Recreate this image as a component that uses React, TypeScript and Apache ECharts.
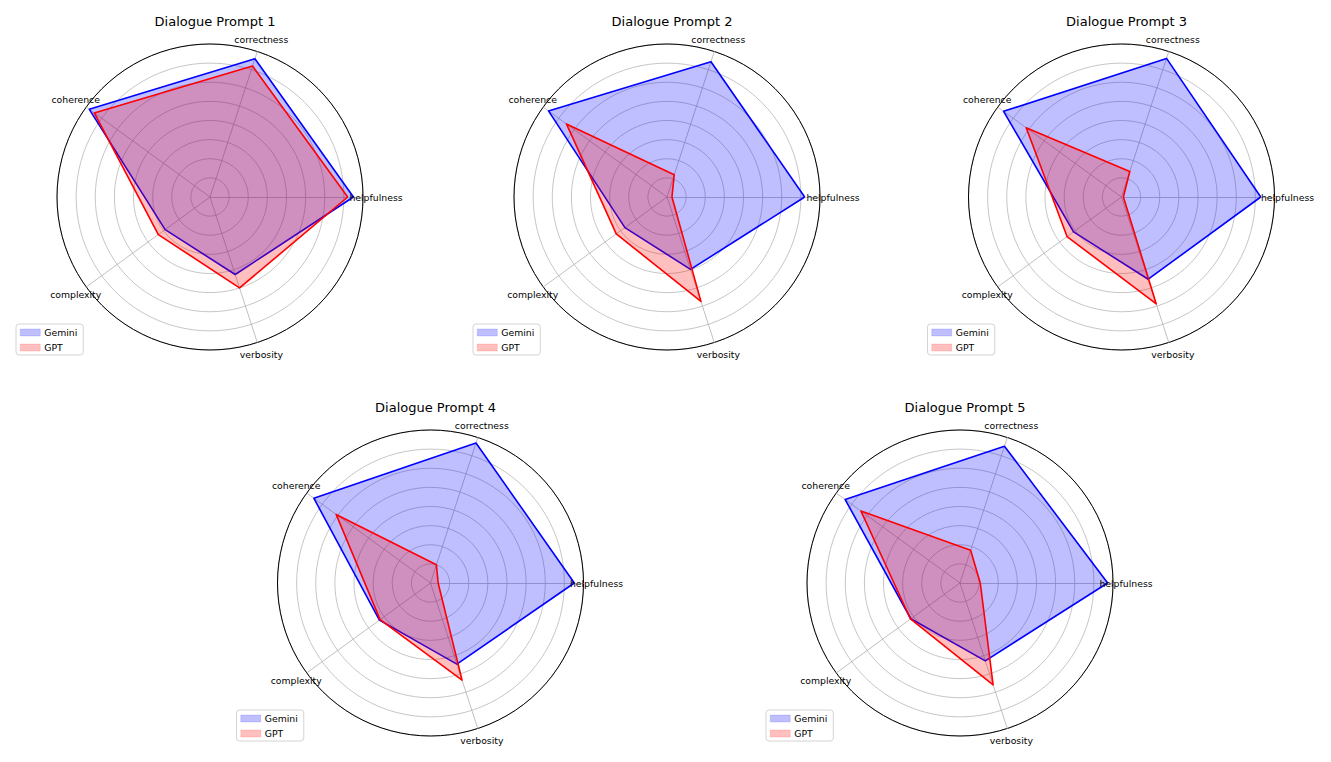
import React, { useEffect, useRef } from "react";
import * as echarts from "echarts";

const categories = ["helpfulness", "correctness", "coherence", "complexity", "verbosity"];
const titles = ["Dialogue Prompt 1", "Dialogue Prompt 2", "Dialogue Prompt 3", "Dialogue Prompt 4", "Dialogue Prompt 5"];
const seriesNames = ["Gemini", "GPT"];

const gemini1 = [3.75, 3.8, 3.9, 1.45, 2.13];
const gpt1 = [3.6, 3.6, 3.74, 1.67, 2.5];
const gemini2 = [3.6, 3.72, 3.83, 1.36, 1.99];
const gpt2 = [0.13, 0.61, 3.25, 1.64, 2.87];
const gemini3 = [3.64, 3.81, 3.81, 1.55, 2.26];
const gpt3 = [0.05, 0.7, 3.08, 1.76, 2.94];
const gemini4 = [3.76, 3.85, 3.77, 1.65, 2.23];
const gpt4 = [0.2, 0.5, 3.05, 1.63, 2.67];
const gemini5 = [3.86, 3.76, 3.71, 1.59, 2.14];
const gpt5 = [0.53, 0.9, 3.2, 1.6, 2.8];

const geminiData = [gemini1, gemini2, gemini3, gemini4, gemini5];
const gptData = [gpt1, gpt2, gpt3, gpt4, gpt5];

const rMax = 4;
const rStep = 0.5;

// layout
const centers: [number, number][] = [
  [210, 197],
  [667, 197],
  [1121.5, 197],
  [430.5, 583],
  [960, 583],
];
const RADIUS = 153;
const FONT = "DejaVu Sans, Liberation Sans, sans-serif";

const BLUE = "#0000ff";
const RED = "#ff0000";

export default function App() {
  const ref = useRef<HTMLDivElement>(null);

  useEffect(() => {
    document.body.style.margin = "0";
    if (!ref.current) return;
    const chart = echarts.init(ref.current, undefined, { renderer: "svg" });

    const radar: any[] = [];
    const series: any[] = [];
    const title: any[] = [];
    const legend: any[] = [];
    const graphic: any[] = [];

    centers.forEach(([cx, cy], i) => {
      const indicator = categories.map((c) => ({ name: c, min: 0, max: rMax }));
      radar.push({
        center: [cx, cy],
        radius: RADIUS,
        startAngle: 0,
        shape: "circle",
        splitNumber: Math.round(rMax / rStep),
        indicator,
        axisName: { show: false },
        axisLine: { show: true, lineStyle: { color: "#b0b0b0", width: 0.8 } },
        splitLine: { show: true, lineStyle: { color: "#b8b8b8", width: 0.8 } },
        splitArea: { show: false },
        axisTick: { show: false },
        axisLabel: { show: false },
      });
      radar.push({
        center: [cx, cy],
        radius: RADIUS,
        startAngle: 0,
        shape: "circle",
        splitNumber: 1,
        indicator,
        axisName: { show: false },
        axisLine: { show: false },
        splitLine: { show: true, lineStyle: { color: "#000000", width: 1 } },
        splitArea: { show: false },
        axisTick: { show: false },
        axisLabel: { show: false },
      });

      series.push({
        type: "radar",
        name: seriesNames[0],
        radarIndex: i * 2,
        symbol: "none",
        z: 3,
        lineStyle: { color: BLUE, width: 1.6 },
        itemStyle: { color: BLUE },
        areaStyle: { color: "rgba(0,0,255,0.25)", opacity: 1 },
        data: [{ value: geminiData[i], name: seriesNames[0] }],
      });
      series.push({
        type: "radar",
        name: seriesNames[1],
        radarIndex: i * 2,
        symbol: "none",
        z: 4,
        lineStyle: { color: RED, width: 1.6 },
        itemStyle: { color: RED },
        areaStyle: { color: "rgba(255,0,0,0.25)", opacity: 1 },
        data: [{ value: gptData[i], name: seriesNames[1] }],
      });

      title.push({
        text: titles[i],
        left: cx,
        top: cy - 187,
        textAlign: "center",
        textStyle: { fontFamily: FONT, fontSize: 13, fontWeight: "normal", color: "#000" },
      });

      legend.push({
        orient: "vertical",
        left: cx - 194,
        top: cy + 127,
        padding: [4, 6, 3, 4],
        itemGap: 6,
        itemWidth: 20,
        itemHeight: 7,
        icon: "rect",
        selectedMode: false,
        borderColor: "#d4d4d4",
        borderWidth: 1,
        borderRadius: 3,
        backgroundColor: "#ffffff",
        textStyle: { fontFamily: FONT, fontSize: 9.3, color: "#000", padding: [0, 0, 0, -1] },
        data: [
          { name: seriesNames[0], icon: "rect", itemStyle: { color: "rgba(0,0,255,0.25)", borderColor: "rgba(0,0,255,0.25)", borderWidth: 0.5 } },
          { name: seriesNames[1], icon: "rect", itemStyle: { color: "rgba(255,0,0,0.25)", borderColor: "rgba(255,0,0,0.25)", borderWidth: 0.5 } },
        ],
      });

      categories.forEach((c, k) => {
        const ang = (k * 2 * Math.PI) / categories.length;
        const lr = RADIUS + 13;
        graphic.push({
          type: "text",
          x: cx + lr * Math.cos(ang),
          y: cy - lr * Math.sin(ang),
          z: 10,
          style: {
            text: c,
            fontFamily: FONT,
            fontSize: 9.3,
            fill: "#000",
            align: "center",
            verticalAlign: "middle",
          },
        });
      });
    });

    chart.setOption({
      animation: false,
      backgroundColor: "#ffffff",
      title,
      legend,
      radar,
      series,
      graphic,
    });

    return () => chart.dispose();
  }, []);

  return <div ref={ref} style={{ width: 1331, height: 762 }} />;
}
